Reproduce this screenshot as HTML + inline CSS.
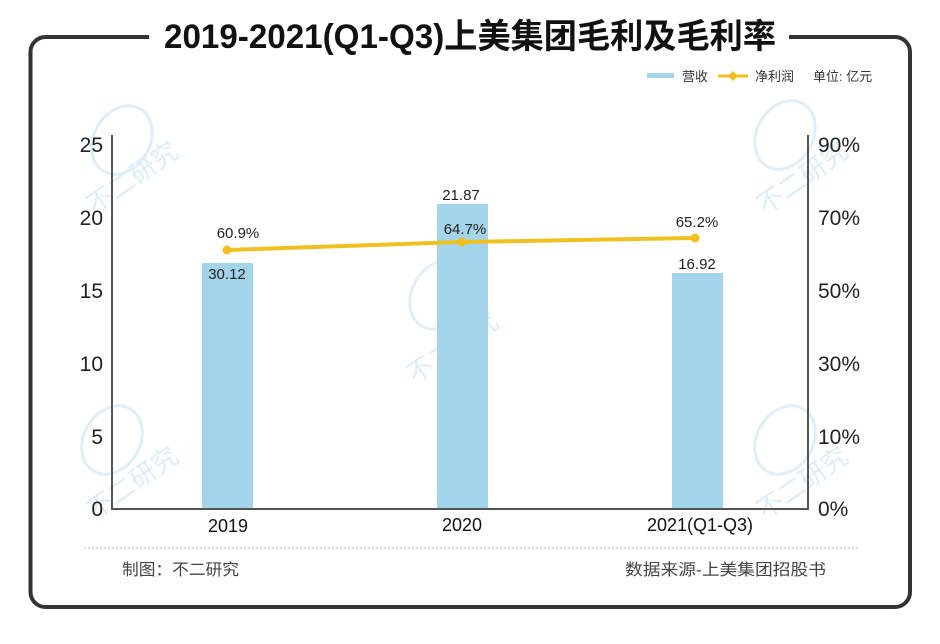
<!DOCTYPE html>
<html>
<head>
<meta charset="utf-8">
<style>
html,body{margin:0;padding:0;background:#fff;}
svg{display:block;}
text{font-family:"Liberation Sans","Noto Sans CJK SC",sans-serif;}
</style>
</head>
<body>
<svg width="940" height="644" viewBox="0 0 940 644" xmlns="http://www.w3.org/2000/svg">
  <rect x="0" y="0" width="940" height="644" fill="#fff"/>

  <!-- watermarks -->
  <g fill="none" stroke="#dcedf8" stroke-width="3" opacity="0.9">
    <ellipse cx="122" cy="140" rx="28" ry="36" transform="rotate(30 122 140)"/>
    <ellipse cx="112" cy="440" rx="28" ry="36" transform="rotate(30 112 440)"/>
    <ellipse cx="440" cy="295" rx="28" ry="36" transform="rotate(30 440 295)"/>
    <ellipse cx="785" cy="135" rx="28" ry="36" transform="rotate(30 785 135)"/>
    <ellipse cx="785" cy="440" rx="28" ry="36" transform="rotate(30 785 440)"/>
  </g>
  <g fill="#dcedf8" font-size="26">
    <text x="95" y="215" transform="rotate(-35 95 215)">不二研究</text>
    <text x="95" y="520" transform="rotate(-35 95 520)">不二研究</text>
    <text x="415" y="385" transform="rotate(-35 415 385)">不二研究</text>
    <text x="765" y="215" transform="rotate(-35 765 215)">不二研究</text>
    <text x="765" y="520" transform="rotate(-35 765 520)">不二研究</text>
  </g>

  <!-- frame -->
  <rect x="30.5" y="37" width="879.5" height="570" rx="15" ry="15" fill="none" stroke="#333" stroke-width="4"/>
  <rect x="149" y="18" width="640" height="40" fill="#fff"/>
  <text x="470" y="48" text-anchor="middle" font-size="34" font-weight="bold" fill="#111" textLength="612" lengthAdjust="spacingAndGlyphs">2019-2021(Q1-Q3)上美集团毛利及毛利率</text>

  <!-- legend -->
  <rect x="647" y="73" width="27" height="5" fill="#a3d4ea"/>
  <text x="682" y="81" font-size="13" fill="#333">营收</text>
  <line x1="718" y1="76" x2="748" y2="76" stroke="#f0c020" stroke-width="3"/>
  <path d="M733 71 L738 76 L733 81 L728 76 Z" fill="#f0c020"/>
  <text x="755" y="81" font-size="13" fill="#333">净利润</text>
  <text x="813" y="81" font-size="13" fill="#333">单位: 亿元</text>

  <!-- bars -->
  <rect x="202" y="263" width="51" height="246" fill="#a3d4ea"/>
  <rect x="437" y="204" width="51" height="305" fill="#a3d4ea"/>
  <rect x="672" y="273" width="51" height="236" fill="#a3d4ea"/>

  <!-- axes -->
  <g stroke="#555" stroke-width="2" fill="none">
    <line x1="112" y1="135" x2="112" y2="510"/>
    <line x1="808" y1="135" x2="808" y2="510"/>
    <line x1="111" y1="509" x2="809" y2="509"/>
  </g>

  <!-- left ticks -->
  <g font-size="21" fill="#222" text-anchor="end">
    <text x="103" y="152">25</text>
    <text x="103" y="225">20</text>
    <text x="103" y="298">15</text>
    <text x="103" y="371">10</text>
    <text x="103" y="444">5</text>
    <text x="103" y="516">0</text>
  </g>
  <!-- right ticks -->
  <g font-size="21" fill="#222">
    <text x="818" y="152">90%</text>
    <text x="818" y="225">70%</text>
    <text x="818" y="298">50%</text>
    <text x="818" y="371">30%</text>
    <text x="818" y="444">10%</text>
    <text x="818" y="516">0%</text>
  </g>

  <!-- x labels -->
  <g font-size="18" fill="#111" text-anchor="middle">
    <text x="228" y="532">2019</text>
    <text x="462" y="531">2020</text>
    <text x="700" y="531">2021(Q1-Q3)</text>
  </g>

  <!-- line series -->
  <polyline points="227,250 462,242 695,238" fill="none" stroke="#f0c020" stroke-width="4" stroke-linejoin="round"/>
  <circle cx="227" cy="250" r="4.5" fill="#f0c020"/>
  <circle cx="462" cy="242" r="4.5" fill="#f0c020"/>
  <circle cx="695" cy="238" r="4.5" fill="#f0c020"/>

  <!-- data labels -->
  <g font-size="15" fill="#222" text-anchor="middle">
    <text x="238" y="238">60.9%</text>
    <text x="227" y="279">30.12</text>
    <text x="461" y="200">21.87</text>
    <text x="465" y="234">64.7%</text>
    <text x="697" y="227">65.2%</text>
    <text x="697" y="269">16.92</text>
  </g>

  <!-- footer -->
  <line x1="84" y1="548" x2="860" y2="548" stroke="#bbb" stroke-width="1" stroke-dasharray="2,2"/>
  <text x="122" y="575" font-size="16" fill="#444" textLength="117" lengthAdjust="spacingAndGlyphs">制图：不二研究</text>
  <text x="625" y="575" font-size="16" fill="#444" textLength="201" lengthAdjust="spacingAndGlyphs">数据来源-上美集团招股书</text>
</svg>
</body>
</html>
